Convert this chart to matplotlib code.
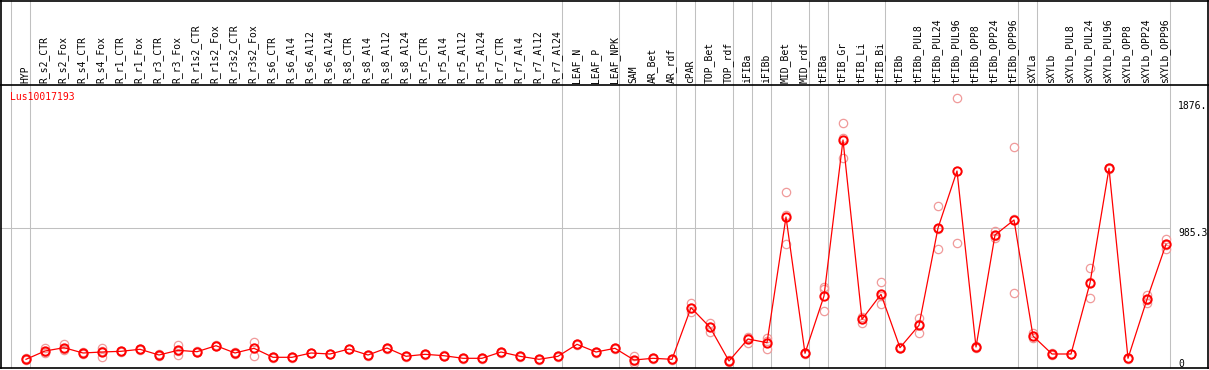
import matplotlib
matplotlib.use('Agg')
import matplotlib.pyplot as plt
from matplotlib.transforms import blended_transform_factory
import numpy as np

samples = ['HYP', 'R_s2_CTR', 'R_s2_Fox', 'R_s4_CTR', 'R_s4_Fox', 'R_r1_CTR', 'R_r1_Fox',
           'R_r3_CTR', 'R_r3_Fox', 'R_r1s2_CTR', 'R_r1s2_Fox', 'R_r3s2_CTR', 'R_r3s2_Fox',
           'R_s6_CTR', 'R_s6_Al4', 'R_s6_Al12', 'R_s6_Al24', 'R_s8_CTR', 'R_s8_Al4',
           'R_s8_Al12', 'R_s8_Al24', 'R_r5_CTR', 'R_r5_Al4', 'R_r5_Al12', 'R_r5_Al24',
           'R_r7_CTR', 'R_r7_Al4', 'R_r7_Al12', 'R_r7_Al24', 'LEAF_N', 'LEAF_P', 'LEAF_NPK',
           'SAM', 'AR_Bet', 'AR_rdf', 'cPAR', 'TOP_Bet', 'TOP_rdf', 'iFIBa', 'iFIBb',
           'MID_Bet', 'MID_rdf', 'tFIBa', 'tFIB_Gr', 'tFIB_Li', 'tFIB_Bi', 'tFIBb',
           'tFIBb_PUL8', 'tFIBb_PUL24', 'tFIBb_PUL96', 'tFIBb_OPP8', 'tFIBb_OPP24',
           'tFIBb_OPP96', 'sXYLa', 'sXYLb', 'sXYLb_PUL8', 'sXYLb_PUL24', 'sXYLb_PUL96',
           'sXYLb_OPP8', 'sXYLb_OPP24', 'sXYLb_OPP96']

# mean expression per sample
means = [30.5, 90.9, 114.9, 76.4, 83.6, 88.7, 103.3, 61.8, 96.0, 85.8, 129.4, 76.4, 110.5,
         45.1, 45.1, 76.4, 69.1, 105.4, 61.8, 112.7, 52.4, 66.9, 56.7, 37.8, 37.8,
         83.6, 52.4, 30.5, 52.4, 139.6, 83.6, 110.5,
         25.5, 37.8, 30.5, 405.8, 263.2, 18.2, 178.2, 151.3,
         1065.3, 74.2, 490.8, 1625.2, 321.4, 503.2, 114.9,
         277.8, 985.3, 1399.8, 120.0, 934.4, 1043.5,
         200.0, 69.1, 69.1, 585.4, 1419.4, 37.8, 466.8, 866.8]

# replicate values per sample
replicates = [[22, 30, 40], [115, 85, 74], [142, 98, 105], [70, 76, 83], [115, 45, 91],
              [85, 89, 92], [98, 103, 109], [56, 62, 67], [134, 62, 92], [82, 86, 90],
              [124, 130, 134], [70, 78, 82], [158, 57, 116],
              [42, 45, 48], [42, 45, 48], [73, 76, 80], [66, 69, 72], [102, 105, 109],
              [58, 62, 65], [109, 113, 116], [49, 52, 56], [63, 67, 70], [53, 57, 60],
              [35, 38, 41], [35, 38, 41], [80, 84, 87], [49, 52, 56], [27, 30, 34],
              [49, 52, 56], [135, 140, 144], [80, 84, 87], [107, 110, 114],
              [54, 6, 16], [34, 38, 41], [27, 30, 34], [438, 372, 407], [297, 231, 262],
              [10, 18, 27], [195, 151, 188], [183, 105, 165],
              [1249, 867, 1080], [70, 74, 79], [554, 540, 380], [1747, 1492, 1637],
              [340, 297, 327], [590, 430, 489], [110, 115, 120],
              [329, 220, 285], [1145, 830, 980], [1928, 874, 1397], [115, 120, 125],
              [966, 910, 927], [1572, 510, 1048],
              [220, 183, 197], [65, 69, 73], [66, 69, 72], [692, 474, 590],
              [1415, 1420, 1423], [33, 38, 42], [498, 442, 460], [905, 833, 862]]

# last sample index of each group (vertical separators)
group_ends = [-1, 0, 28, 31, 34, 35, 37, 38, 39, 41, 42, 45, 52, 53, 60]

gene = 'Lus10017193'
ytick_values = [1876.0, 985.3, 0]
ytick_labels = ['1876.', '985.3', '0']

W, H = 1209, 370
fig = plt.figure(figsize=(W / 100, H / 100), dpi=100)
fig.patch.set_facecolor('white')

x0, dx = 26, 19  # pixel of first sample, pixel step
xlim = (-x0 / dx, (W - x0) / dx)
plot_top, plot_bot = 85, 368
ylim = (-32.7, 2025.1)

ax = fig.add_axes([0, (H - plot_bot) / H, 1, (plot_bot - plot_top) / H])
ax.set_xlim(*xlim)
ax.set_ylim(*ylim)
ax.axis('off')

xf = blended_transform_factory(ax.transData, fig.transFigure)
grey = '#c0c0c0'
lw = 0.75

# group separators through label area and plot
for g in group_ends:
    ax.vlines(g + 0.21, (H - plot_bot) / H, 1, transform=xf, colors=grey,
              linewidth=lw, clip_on=False, zorder=1)

# horizontal grid line
right_edge = (1170 - x0) / dx
ax.hlines(985.3, xlim[0], right_edge, colors=grey, linewidth=lw, zorder=1)

x = np.arange(len(samples))

# replicates
for i, reps in enumerate(replicates):
    ax.plot([i] * len(reps), reps, linestyle='none', marker='o', markersize=6,
            markerfacecolor='none', markeredgecolor='#f09a9a', markeredgewidth=0.9,
            zorder=2)

ax.plot(x, means, color='#ff0000', linewidth=0.9, zorder=3)
ax.plot(x, means, linestyle='none', marker='o', markersize=6, markerfacecolor='none',
        markeredgecolor='#ff0000', markeredgewidth=1.4, zorder=4)

# sample labels
for i, s in enumerate(samples):
    ax.text(i - 0.05, (H - 83) / H, s, transform=xf, rotation=90, ha='center',
            va='bottom', fontsize=7, family='DejaVu Sans Mono', color='black')

# gene name
fig.text(10 / W, (H - 97) / H, gene, color='#ff0000', fontsize=7,
         family='DejaVu Sans Mono', ha='left', va='center')

# y labels on the right
yt = blended_transform_factory(fig.transFigure, ax.transData)
vas = ['center', 'top', 'center']
for v, lab, va in zip(ytick_values, ytick_labels, vas):
    fig.text(1178 / W, v, lab, transform=yt, fontsize=7, family='DejaVu Sans Mono',
             ha='left', va=va, color='black')

# frame
def hline(ypix, x1=0, x2=W, color='black'):
    fig.add_artist(plt.Line2D([x1 / W, x2 / W], [(H - ypix) / H] * 2,
                              transform=fig.transFigure, color=color, linewidth=1.2))

def vline(xpix, y1=0, y2=plot_bot, color='black'):
    fig.add_artist(plt.Line2D([xpix / W] * 2, [(H - y1) / H, (H - y2) / H],
                              transform=fig.transFigure, color=color, linewidth=1.2))

hline(0.6)
hline(plot_top)
hline(plot_bot)
vline(0.6)
vline(W - 0.8)

fig.savefig('out.png', dpi=100)
